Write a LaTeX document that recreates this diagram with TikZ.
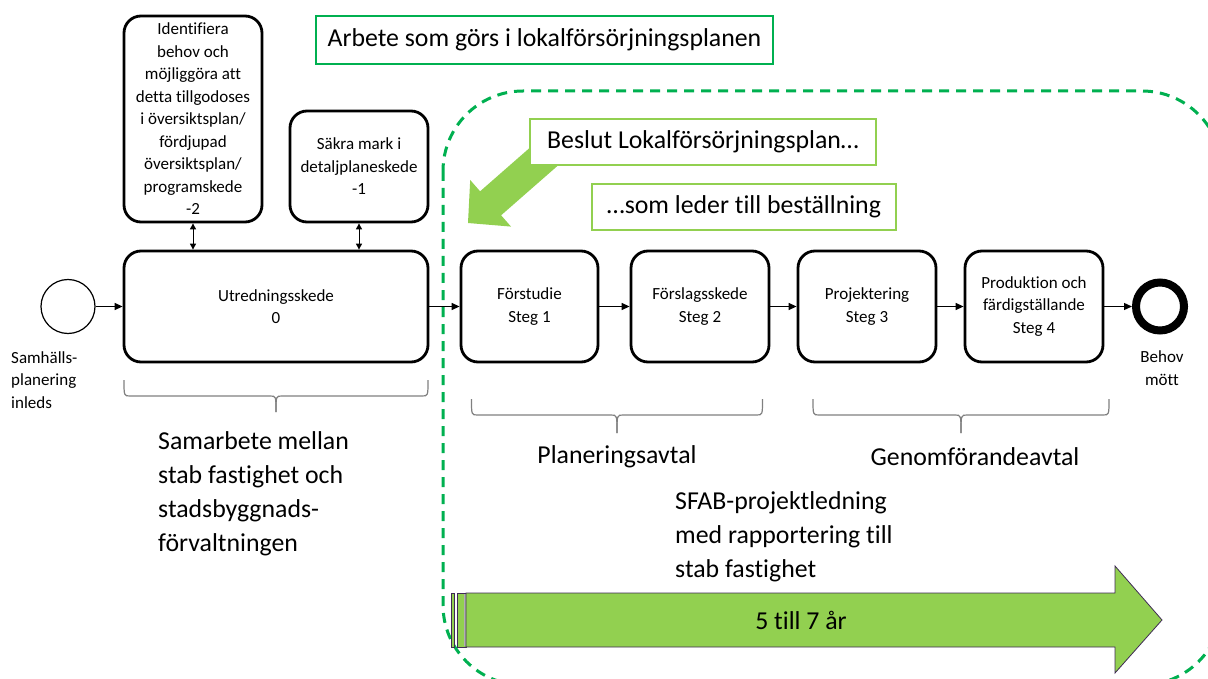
\documentclass[tikz,border=0pt]{standalone}
\usepackage{fontspec}
\setmainfont{Carlito}[Ligatures=CommonOff]
\usetikzlibrary{arrows.meta}
\definecolor{dgreen}{HTML}{00B050}
\definecolor{lgreen}{HTML}{92D050}
\definecolor{apurple}{HTML}{3F2A55}
\definecolor{bracegray}{HTML}{808080}
\newcommand{\boxfont}{\fontsize{17}{22.5}\selectfont}
\newcommand{\bigfont}{\fontsize{25.8}{34}\selectfont}
\begin{document}
\begin{tikzpicture}[x=1pt,y=-1pt,
 stage/.style={draw, line width=2.8pt, rounded corners=17pt, align=center, font=\boxfont, inner sep=2pt, fill=white},
 conn/.style={-{Triangle[length=8pt,width=7pt]}, line width=1.3pt},
 dbl/.style={{Triangle[length=6pt,width=6pt]}-{Triangle[length=6pt,width=6pt]}, line width=1pt},
 lbl/.style={font=\boxfont, align=left, inner sep=0pt},
 big/.style={font=\bigfont, align=left, inner sep=0pt},
 gbox/.style={draw=dgreen, line width=1.5pt, fill=white, font=\bigfont, inner sep=0pt},
 lbox/.style={draw=lgreen, line width=1.5pt, fill=white, font=\bigfont, inner sep=0pt},
 bracepath/.style={draw=bracegray, line width=1.2pt},
 phase/.style={dgreen, line width=3pt, dash pattern=on 10pt off 7pt, rounded corners=80pt},
 bigarrow/.style={fill=lgreen, draw=apurple, line width=0.8pt},
]
\useasboundingbox (0,0) rectangle (1208,679);
\clip (0,0) rectangle (1208,679);

% dashed phase frame
\draw[phase] (443,91) rectangle (1222,685);

% green diagonal arrow
\fill[lgreen] (468,223) -- (470.2,180) -- (480.1,191.3) -- (536.5,141.9) -- (557.5,165.9) -- (501.1,215.3) -- (511,226.6) -- cycle;

% text boxes
\node[gbox, minimum width=457pt, minimum height=48pt] (arbete) at (544.5,40) {Arbete som görs i lokalförsörjningsplanen};
\node[lbox, minimum width=346pt, minimum height=46pt] (beslut) at (703,142) {Beslut Lokalförsörjningsplan…};
\node[lbox, minimum width=304pt, minimum height=46pt] (leder) at (744,207) {…som leder till beställning};

% stages
\node[stage, minimum width=304pt, minimum height=111pt] (utr) at (276,306.5) {Utredningsskede\\0};
\node[stage, minimum width=138pt, minimum height=206pt] (idf) at (193,119) {Identifiera\\behov och\\möjliggöra att\\detta tillgodoses\\i översiktsplan/\\fördjupad\\översiktsplan/\\programskede\\-2};
\node[stage, minimum width=138pt, minimum height=111pt] (sakra) at (359,166.5) {Säkra mark i\\detaljplaneskede\\-1};
\node[stage, minimum width=137pt, minimum height=111pt] (fst) at (529.5,306.5) {Förstudie\\Steg 1};
\node[stage, minimum width=138pt, minimum height=111pt] (fsl) at (700,306.5) {Förslagsskede\\Steg 2};
\node[stage, minimum width=138pt, minimum height=111pt] (proj) at (867,306.5) {Projektering\\Steg 3};
\node[stage, minimum width=138pt, minimum height=111pt] (prod) at (1034,306.5) {Produktion och\\färdigställande\\Steg 4};

% events
\node[draw, circle, line width=1.2pt, minimum size=54pt, inner sep=0pt] (start) at (68,306.5) {};
\node[draw, circle, line width=8pt, minimum size=48pt, inner sep=0pt] (end) at (1160,306.5) {};
\node[lbl, anchor=west] (startlbl) at (11,380) {Samhälls-\\planering\\inleds};
\node[lbl, align=center] (endlbl) at (1162,368) {Behov\\mött};

% connectors
\draw[conn] (start) -- (utr);
\draw[conn] (utr) -- (fst);
\draw[conn] (fst) -- (fsl);
\draw[conn] (fsl) -- (proj);
\draw[conn] (proj) -- (prod);
\draw[conn] (prod) -- (end);
\draw[dbl] (idf.south) -- (idf.south |- utr.north);
\draw[dbl] (sakra.south) -- (sakra.south |- utr.north);

% braces
\draw[bracepath] (124,380) .. controls (124,396) .. (130,396) -- (270,396) .. controls (276,396) .. (276,412);
\draw[bracepath] (428,380) .. controls (428,396) .. (422,396) -- (282,396) .. controls (276,396) .. (276,412);
\draw[bracepath] (471.5,399) .. controls (471.5,415) .. (477.5,415) -- (611,415) .. controls (617,415) .. (617,433);
\draw[bracepath] (762.5,399) .. controls (762.5,415) .. (756.5,415) -- (623,415) .. controls (617,415) .. (617,433);
\draw[bracepath] (813,399) .. controls (813,415) .. (819,415) -- (955,415) .. controls (961,415) .. (961,433);
\draw[bracepath] (1109,399) .. controls (1109,415) .. (1103,415) -- (967,415) .. controls (961,415) .. (961,433);

% labels
\node[big, anchor=west] (samarb) at (158,494) {Samarbete mellan\\stab fastighet och\\stadsbyggnads-\\förvaltningen};
\node[big] (plan) at (617,457) {Planeringsavtal};
\node[big] (genom) at (975,457) {Genomförandeavtal};
\node[big, anchor=west] (sfab) at (675,537) {SFAB-projektledning\\med rapportering till\\stab fastighet};

% 5 till 7 år arrow
\draw[bigarrow] (451,593) rectangle (454.5,647);
\draw[bigarrow] (457,593) rectangle (466,647);
\draw[gray!60, line width=2pt] (464.5,594) -- (464.5,646);
\draw[bigarrow] (466,593) -- (1115,593) -- (1115,566) -- (1162,620) -- (1115,673) -- (1115,647) -- (466,647) -- cycle;
\node[big] (years) at (801,620) {5 till 7 år};
\end{tikzpicture}
\end{document}
